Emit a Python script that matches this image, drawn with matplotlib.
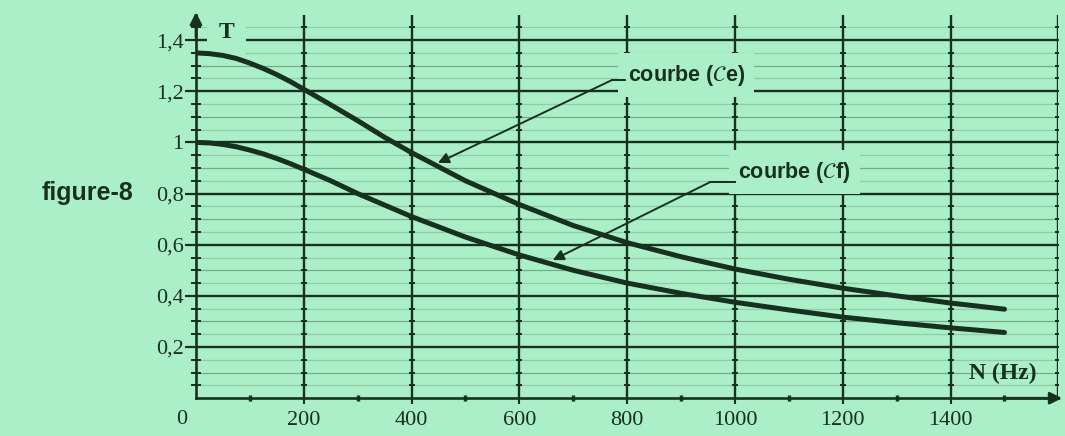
import numpy as np
import matplotlib
matplotlib.use('Agg')
import matplotlib.pyplot as plt

# frequency N (Hz) and transmission T
freq = [0, 25, 50, 75, 100, 125, 150, 175, 200, 250, 300, 350, 400, 500, 600, 700, 800, 900,
        1000, 1100, 1200, 1300, 1400, 1500]
t_ce = [1.35, 1.347, 1.34, 1.328, 1.31, 1.289, 1.265, 1.238, 1.208, 1.147, 1.085, 1.02, 0.96,
        0.85, 0.757, 0.675, 0.608, 0.553, 0.505, 0.465, 0.43, 0.40, 0.372, 0.348]
t_cf = [1.00, 0.998, 0.992, 0.983, 0.97, 0.955, 0.937, 0.917, 0.895, 0.85, 0.80, 0.755, 0.71,
        0.63, 0.56, 0.50, 0.45, 0.41, 0.375, 0.345, 0.317, 0.295, 0.275, 0.257]

x_major = [200, 400, 600, 800, 1000, 1200, 1400]
y_major = [0.2, 0.4, 0.6, 0.8, 1.0, 1.2, 1.4]
y_labels = ['0,2', '0,4', '0,6', '0,8', '1', '1,2', '1,4']

bg = '#aaefc7'
ink = '#17301f'

fig = plt.figure(figsize=(10.65, 4.36), dpi=100, facecolor=bg)
ax = fig.add_axes([0.184, 0.0867, 0.8098, 0.880], facecolor=bg)
ax.set_xlim(0, 1600)
ax.set_ylim(0, 1.5)

# graph paper
fine_y = np.arange(0.05, 1.5, 0.05)
for y in fine_y:
    if abs(y / 0.2 - round(y / 0.2)) < 1e-6:
        continue
    odd_tenth = abs(y / 0.1 - round(y / 0.1)) < 1e-6
    ax.axhline(y, color=ink, lw=0.9, alpha=0.35 if odd_tenth else 0.18, zorder=1)
for y in y_major:
    ax.axhline(y, color=ink, lw=1.7, zorder=1)
for x in x_major + [1600]:
    ax.axvline(x, color=ink, lw=1.7, zorder=1)
    ax.plot([x] * len(fine_y), fine_y, ls='none', marker='_', ms=5, mew=1.4,
            color=ink, zorder=1)

# curves
ax.plot(freq, t_ce, color=ink, lw=3.6, solid_capstyle='round', zorder=4)
ax.plot(freq, t_cf, color=ink, lw=3.6, solid_capstyle='round', zorder=4)

# axes with arrows
for s in ['top', 'right']:
    ax.spines[s].set_visible(False)
ax.spines['left'].set_color(ink)
ax.spines['bottom'].set_color(ink)
ax.spines['left'].set_linewidth(1.9)
ax.spines['bottom'].set_linewidth(1.9)
ax.annotate('', xy=(0, 1.52), xytext=(0, 1.40), annotation_clip=False,
            arrowprops=dict(arrowstyle='-|>', color=ink, lw=1.9, mutation_scale=18))
ax.annotate('', xy=(1612, 0), xytext=(1500, 0), annotation_clip=False,
            arrowprops=dict(arrowstyle='-|>', color=ink, lw=1.9, mutation_scale=18))

ax.set_xticks(x_major)
ax.set_xticklabels([str(v) for v in x_major])
ax.set_xticks(np.arange(100, 1600, 200), minor=True)
ax.set_yticks(y_major)
ax.set_yticklabels(y_labels)
ax.set_yticks(np.arange(0.05, 1.5, 0.05), minor=True)
ax.tick_params(axis='x', which='major', length=4, width=1.5, color=ink, pad=5,
               labelsize=16, labelcolor=ink, labelfontfamily='Liberation Serif')
ax.tick_params(axis='x', which='minor', length=4, width=2.4, direction='inout', color=ink)
ax.tick_params(axis='y', which='major', length=8, width=1.6, color=ink, pad=1,
               labelsize=16, labelcolor=ink, labelfontfamily='Liberation Serif')
ax.tick_params(axis='y', which='minor', length=7, width=1.4, direction='inout', color=ink)

ax.text(-26, -0.085, '0', ha='center', va='center', fontsize=16, color=ink,
        family='Liberation Serif', clip_on=False)
ax.text(57, 1.428, 'T', ha='center', va='center', fontsize=17, fontweight='bold', color=ink,
        family='Liberation Serif', zorder=2,
        bbox=dict(boxstyle='square,pad=0.5', fc=bg, ec='none'))
ax.text(1497, 0.0985, 'N (Hz)', ha='center', va='center', fontsize=17, fontweight='bold',
        color=ink, family='Liberation Serif', zorder=3)

# curve labels with leaders
ax.text(801, 1.263, r'courbe ($\mathcal{C}$e)', ha='left', va='center', fontsize=15.5,
        fontweight='bold', color=ink, family='Liberation Sans', zorder=3,
        bbox=dict(boxstyle='square,pad=0.45', fc=bg, ec='none'))
ax.plot([772, 796], [1.244, 1.244], color=ink, lw=1.4, zorder=5)
ax.annotate('', xy=(449, 0.92), xytext=(772, 1.244),
            arrowprops=dict(arrowstyle='-|>', color=ink, lw=1.4, mutation_scale=16,
                            shrinkA=0, shrinkB=0), zorder=5)

ax.text(1006, 0.884, r'courbe ($\mathcal{C}$f)', ha='left', va='center', fontsize=15.5,
        fontweight='bold', color=ink, family='Liberation Sans', zorder=3,
        bbox=dict(boxstyle='square,pad=0.45', fc=bg, ec='none'))
ax.plot([954, 1000], [0.845, 0.845], color=ink, lw=1.4, zorder=5)
ax.annotate('', xy=(662, 0.54), xytext=(954, 0.845),
            arrowprops=dict(arrowstyle='-|>', color=ink, lw=1.4, mutation_scale=16,
                            shrinkA=0, shrinkB=0), zorder=5)

fig.text(88 / 1065, 1 - 193 / 436, 'figure-8', ha='center', va='center', fontsize=18,
         fontweight='bold', color=ink, family='Liberation Sans')

fig.savefig('out.png', dpi=100, facecolor=bg)
